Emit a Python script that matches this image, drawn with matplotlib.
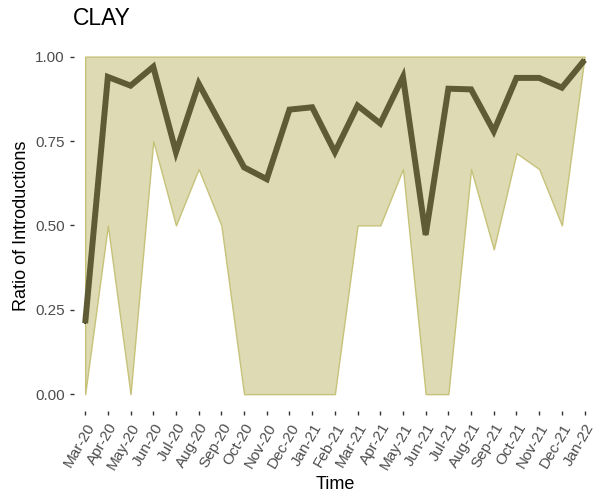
import matplotlib
matplotlib.use("Agg")
import matplotlib.pyplot as plt
import numpy as np

plt.rcParams["font.family"] = ["Liberation Sans", "DejaVu Sans"]

# 月份标签
months = [
    "Mar-20", "Apr-20", "May-20", "Jun-20", "Jul-20", "Aug-20", "Sep-20",
    "Oct-20", "Nov-20", "Dec-20", "Jan-21", "Feb-21", "Mar-21", "Apr-21",
    "May-21", "Jun-21", "Jul-21", "Aug-21", "Sep-21", "Oct-21", "Nov-21",
    "Dec-21", "Jan-22",
]

# 均值曲线
ratio = [
    0.21, 0.94, 0.914, 0.97, 0.717, 0.92, 0.796, 0.672, 0.637, 0.843,
    0.85, 0.717, 0.855, 0.802, 0.94, 0.472, 0.905, 0.903, 0.779, 0.937,
    0.937, 0.908, 0.99,
]

# 区间下界 / 上界
lower = [
    0.0, 0.5, 0.0, 0.75, 0.5, 0.667, 0.5, 0.0, 0.0, 0.0, 0.0, 0.0, 0.5,
    0.5, 0.667, 0.0, 0.0, 0.667, 0.429, 0.714, 0.667, 0.5, 1.0,
]
upper = [1.0] * len(months)

x = np.arange(len(months))

fig = plt.figure(figsize=(6.05, 4.97), dpi=100)
ax = fig.add_axes([0.122, 0.173, 0.863, 0.747])

ax.fill_between(x, lower, upper, facecolor="#dddab4", edgecolor="#c7c27a", linewidth=1.0)
ax.plot(x, ratio, color="black", linewidth=1.2, solid_capstyle="round")
ax.plot(x, ratio, color="#5f5c35", linewidth=4.3, solid_capstyle="butt", solid_joinstyle="miter")

ax.set_xlim(-0.5, 22.5)
ax.set_ylim(-0.05, 1.05)
ax.set_xticks(x)
ax.set_xticklabels(months, rotation=60, ha="right", rotation_mode="anchor")
ax.set_yticks([0, 0.25, 0.5, 0.75, 1.0])
ax.set_yticklabels(["0.00", "0.25", "0.50", "0.75", "1.00"])

for s in ax.spines.values():
    s.set_visible(False)

ax.tick_params(axis="both", colors="#333333", labelcolor="#4d4d4d", labelsize=11,
               length=3, width=1)
ax.tick_params(axis="x", pad=4)

ax.set_xlabel("Time", fontsize=13, labelpad=3)
ax.set_ylabel("Ratio of Introductions", fontsize=13, labelpad=4)
fig.text(0.12, 0.963, "CLAY", fontsize=16.5, ha="left", va="center")

fig.savefig("out.png", dpi=100)
